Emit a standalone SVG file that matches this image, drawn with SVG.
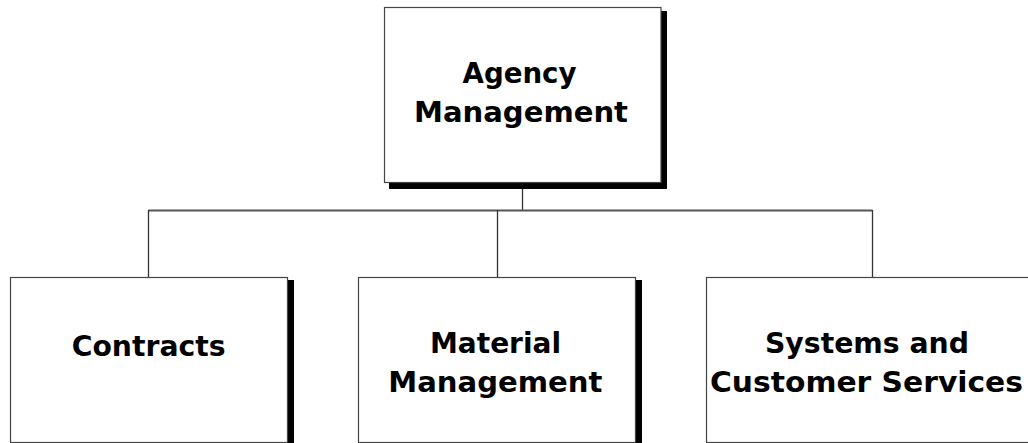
<svg xmlns="http://www.w3.org/2000/svg" width="1028" height="443" viewBox="0 0 1028 443">
<style>
.box{fill:#fff;stroke:#444;stroke-width:1.2}
.shadow{fill:#000}
.lbl{font-family:"DejaVu Sans",Verdana,sans-serif;font-weight:bold;font-size:28px;fill:#000;text-anchor:middle}
.conn{stroke:#333;stroke-width:1.3;fill:none}
.bus{stroke:#555;stroke-width:2;fill:none}
</style>
<rect width="1028" height="443" fill="#fff"/>
<g id="connectors">
<line class="conn" x1="522.5" y1="188" x2="522.5" y2="210"/>
<line class="bus" x1="148.5" y1="210.5" x2="872.5" y2="210.5"/>
<line class="conn" x1="148.5" y1="210" x2="148.5" y2="278"/>
<line class="conn" x1="497.5" y1="210" x2="497.5" y2="278"/>
<line class="conn" x1="872.5" y1="210" x2="872.5" y2="278"/>
</g>
<g id="agency-management">
<rect class="shadow" x="389" y="11" width="278" height="178"/>
<rect class="box" x="384.5" y="7.5" width="276.5" height="175"/>
<text class="lbl" x="519.5" y="83" textLength="114" lengthAdjust="spacingAndGlyphs">Agency</text>
<text class="lbl" x="521" y="121.5" textLength="214" lengthAdjust="spacingAndGlyphs">Management</text>
</g>
<g id="contracts">
<rect class="shadow" x="15" y="280" width="279" height="170"/>
<rect class="box" x="10.5" y="277.5" width="277" height="165"/>
<text class="lbl" x="148.7" y="355.5" textLength="154" lengthAdjust="spacingAndGlyphs">Contracts</text>
</g>
<g id="material-management">
<rect class="shadow" x="363" y="280" width="279" height="170"/>
<rect class="box" x="358.5" y="277.5" width="277" height="165"/>
<text class="lbl" x="495.5" y="353.3" textLength="131" lengthAdjust="spacingAndGlyphs">Material</text>
<text class="lbl" x="495.3" y="391.7" textLength="214" lengthAdjust="spacingAndGlyphs">Management</text>
</g>
<g id="systems-customer-services">
<rect class="shadow" x="711" y="280" width="340" height="170"/>
<rect class="box" x="706.5" y="277.5" width="335" height="165"/>
<text class="lbl" x="867" y="353" textLength="204" lengthAdjust="spacingAndGlyphs">Systems and</text>
<text class="lbl" x="866.5" y="391.5" textLength="313" lengthAdjust="spacingAndGlyphs">Customer Services</text>
</g>
</svg>
